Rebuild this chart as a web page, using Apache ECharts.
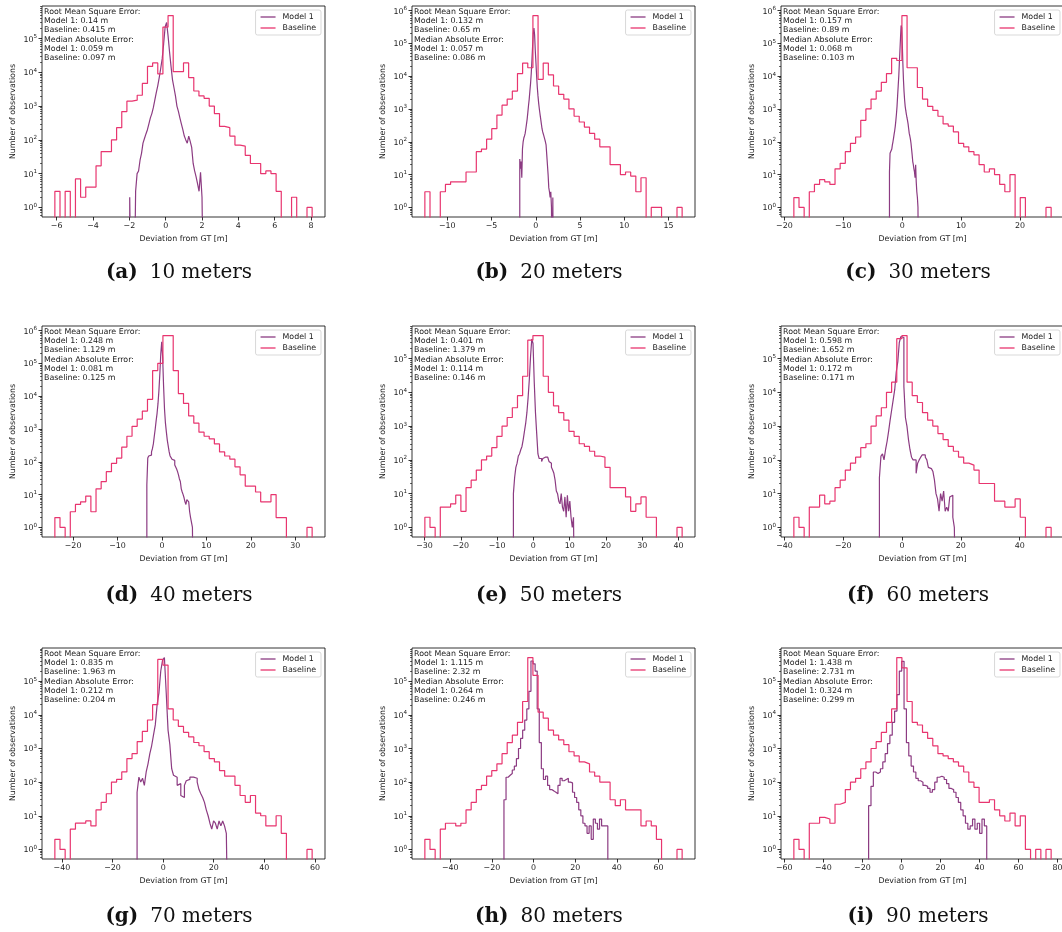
<!DOCTYPE html>
<html>
<head>
<meta charset="utf-8">
<script src="https://cdn.jsdelivr.net/npm/echarts@6/dist/echarts.min.js"></script>
<style>
  html, body { margin: 0; padding: 0; background: #fff; }
  #chart { width: 1062px; height: 932px; }
</style>
</head>
<body>
<div id="chart"></div>
<script>
// ---- data ---------------------------------------------------------------
const panelLetters = ['(a)', '(b)', '(c)', '(d)', '(e)', '(f)', '(g)', '(h)', '(i)'];
const panelDistances = ['10 meters', '20 meters', '30 meters', '40 meters', '50 meters',
                        '60 meters', '70 meters', '80 meters', '90 meters'];

const rmseModel    = [0.14, 0.132, 0.157, 0.248, 0.401, 0.598, 0.835, 1.115, 1.438];
const rmseBaseline = [0.415, 0.65, 0.89, 1.129, 1.379, 1.652, 1.963, 2.32, 2.731];
const maeModel     = [0.059, 0.057, 0.068, 0.081, 0.114, 0.172, 0.212, 0.264, 0.324];
const maeBaseline  = [0.097, 0.086, 0.103, 0.125, 0.146, 0.171, 0.204, 0.246, 0.299];

// histogram ranges [first bin edge, last bin edge] in metres
const baselineRanges = [[-6.1, 8.06], [-12.53, 16.53], [-18.4, 25.3], [-24.1, 33.8], [-29.9, 41.0],
                        [-36.8, 50.7], [-42.8, 58.9], [-52.2, 71.4], [-55.1, 76.7]];
const modelRanges    = [[-1.98, 2.08], [-1.81, 2.0], [-2.16, 2.78], [-3.4, 7.07], [-5.5, 11.4],
                        [-7.7, 18.3], [-10.3, 25.7], [-14.2, 35.7], [-16.8, 43.7]];

// x tick labels per panel
const xTicksA = [-6, -4, -2, 0, 2, 4, 6, 8];
const xTicksB = [-10, -5, 0, 5, 10, 15];
const xTicksC = [-20, -10, 0, 10, 20];
const xTicksD = [-20, -10, 0, 10, 20, 30];
const xTicksE = [-30, -20, -10, 0, 10, 20, 30, 40];
const xTicksF = [-40, -20, 0, 20, 40];
const xTicksG = [-40, -20, 0, 20, 40, 60];
const xTicksH = [-40, -20, 0, 20, 40, 60];
const xTicksI = [-60, -40, -20, 0, 20, 40, 60, 80];

// bin counts (50 bins per series)
const baselineA = [3,0,3,0,7,2,4,4,17,45, 45,100,230,690,1400,1500,2100,4700,15000,19000,
  9000,220000,480000,10500,10500,19000,7000,2800,2000,1700, 1000,600,250,230,130,70,65,35,20,20,
  10,12,10,3,0,0,2,0,0,1];
const modelA = [2,0,0,0,3,10,12,25,40,80, 110,150,200,300,450,600,900,1500,2500,4000,
  7000,13000,25000,70000,220000,300000,120000,40000,15000,6000, 3500,2000,1000,700,450,300,200,130,100,80,
  130,90,60,20,12,8,5,3,11,2];

const baselineB = [3,0,0,3,5,6,6,6,12,12, 50,60,120,250,650,1300,2000,3500,12000,25000,
  18000,700000,8000,25000,11000,5000,2800,2000,1000,600, 400,280,180,120,70,70,20,20,10,12,
  9,3,8,0,1,1,0,0,0,1];
const modelB = [30,15,25,8,60,100,130,150,180,250, 350,500,800,1300,2000,3500,6000,12000,30000,80000,
  200000,290000,180000,60000,25000,10000,4500,2500,1500,1000, 700,500,350,250,200,170,150,120,100,80,
  40,20,10,4,3,2,3,1,0,2];

const baselineC = [2,1,0,3,5,7,6,5,15,22, 50,90,140,450,1000,2000,3500,6500,12000,35000,
  30000,700000,18000,18000,4500,2000,1200,900,600,350, 300,200,90,70,50,40,20,12,15,10,
  5,3,10,0,2,0,0,0,0,1];
const modelC = [12,45,50,40,60,80,100,130,170,220, 300,450,700,1200,2500,5000,10000,25000,60000,150000,
  350000,300000,100000,25000,8000,3500,1900,1200,900,700, 550,450,350,250,180,150,120,90,60,40,
  25,20,15,12,8,20,6,3,2,1];

const baselineD = [2,1,0,3,5,6,9,3,15,25, 50,90,130,280,600,1200,2000,3500,8000,60000,
  100000,700000,700000,60000,12000,6000,2500,1500,800,600, 500,350,200,150,120,70,40,18,18,12,
  6,6,10,2,2,0,0,0,0,1];
const modelD = [20,130,150,140,160,200,250,350,600,1000, 1800,3000,6000,15000,50000,200000,450000,150000,20000,4000,
  1500,800,450,300,200,150,140,120,130,110, 80,70,60,50,40,30,25,15,12,10,
  8,6,5,7,8,6,3,2,2,1];

const baselineE = [2,1,0,4,4,5,9,3,15,25, 50,100,130,230,500,1000,1800,3500,8000,30000,
  350000,480000,480000,30000,10000,4000,2500,1500,700,500, 300,250,180,130,120,60,15,15,15,8,
  3,5,8,2,2,0,0,0,0,1];
const modelE = [10,30,60,80,130,150,200,250,400,700, 1200,2500,7000,25000,120000,380000,280000,20000,2500,600,
  150,110,110,90,110,120,130,120,110,90, 80,60,50,40,25,12,10,6,5,10,
  4,3,8,2,9,3,6,2,1,2];

const baselineF = [2,1,0,4,4,9,5,6,15,25, 50,80,120,230,300,1000,2000,3500,10000,20000,
  390000,480000,20000,8000,5000,2500,1500,1000,600,400, 250,180,120,80,70,50,20,20,20,6,
  6,4,4,7,2,0,0,0,0,1];
const modelF = [30,130,150,100,200,350,700,1500,3000,6000, 12000,40000,80000,300000,450000,420000,15000,1800,1000,400,
  200,120,100,100,40,80,100,120,140,140, 120,100,60,55,50,45,25,10,7,3,
  10,6,12,3,4,3,8,9,2,1];

const baselineG = [2,1,0,4,6,6,7,5,15,25, 45,100,120,200,500,700,1600,3200,7000,20000,
  440000,300000,15000,7000,4500,3000,2200,1500,1200,800, 500,400,220,150,150,80,40,25,40,12,
  10,5,5,10,3,0,0,0,0,1];
const modelG = [50,140,100,130,80,200,350,700,1200,2500, 5000,20000,45000,200000,420000,500000,45000,3500,1300,250,
  160,140,80,90,40,35,80,110,120,140, 140,160,130,100,60,45,35,25,15,10,
  6,4,7,6,4,7,5,7,5,3];

const baselineH = [2,1,0,4,6,6,5,6,15,25, 60,80,150,220,350,700,1500,2500,6000,25000,
  505000,150000,12000,8000,3500,2500,1800,1300,800,600, 400,350,200,150,100,100,30,20,30,15,
  15,15,5,7,5,2,0,0,0,1];
const modelH = [30,140,160,180,230,300,500,1000,2000,3500, 7000,15000,50000,400000,330000,200000,15000,1500,250,120,
  150,80,60,55,50,45,80,130,110,120, 130,100,95,50,35,25,15,10,6,5,
  3,5,2,8,6,4,8,5,5,5];

const baselineI = [2,1,0,6,6,9,8,6,22,25, 60,100,130,250,400,1000,1600,3000,6000,15000,
  505000,250000,25000,6000,5000,3000,2000,1200,700,600, 500,400,300,200,100,70,25,25,30,15,
  10,7,12,5,10,1,0,1,0,1];
const modelI = [20,75,200,180,200,250,400,700,1400,2500, 6000,13000,40000,200000,390000,15000,1500,600,300,200,
  130,110,100,80,75,65,50,60,100,140, 150,140,120,90,65,60,50,35,25,15,
  10,6,4,5,8,4,6,3,8,5];

const baselineCounts = [baselineA, baselineB, baselineC, baselineD, baselineE, baselineF, baselineG, baselineH, baselineI];
const modelCounts    = [modelA, modelB, modelC, modelD, modelE, modelF, modelG, modelH, modelI];
const xTicks         = [xTicksA, xTicksB, xTicksC, xTicksD, xTicksE, xTicksF, xTicksG, xTicksH, xTicksI];

// ---- layout & style ------------------------------------------------------
const CHART_W = 1062;
const colLeft = [42, 412, 781];
const rowTop = [6, 326, 648];
const plotW = 283, plotH = 211;
const captionX = [179, 549, 918];
const captionY = [273, 596, 917];

const COLOR_MODEL = '#8c3b82';
const COLOR_BASE = '#e8356f';
const FONT = 'DejaVu Sans';
const FS = 7.9;
const TEXT = '#1a1a1a';
const EMPTY = 1e-3;   // empty bins fall below the axis floor and get clipped

// outline of a step histogram: down to the floor at both outer edges
function stepOutline(range, counts) {
  const lo = range[0], hi = range[1];
  const w = (hi - lo) / counts.length;
  const pts = [[lo, EMPTY]];
  counts.forEach((c, i) => {
    const v = c > 0 ? c : EMPTY;
    pts.push([lo + i * w, v], [lo + (i + 1) * w, v]);
  });
  pts.push([hi, EMPTY]);
  return pts;
}

function fmtX(v) { return v < 0 ? '\u2212' + (-v) : String(v); }
function fmtLog(v) { return '{b|10}{s|' + Math.round(Math.log10(v)) + '}'; }

const grids = [], xAxes = [], yAxes = [], minorYAxes = [], series = [], legends = [], graphics = [];

for (let p = 0; p < 9; p++) {
  const r = Math.floor(p / 3), c = p % 3;
  const left = colLeft[c], top = rowTop[r];

  // axis extents: 5% margins (log space for y)
  const bLo = Math.min(baselineRanges[p][0], modelRanges[p][0]);
  const bHi = Math.max(baselineRanges[p][1], modelRanges[p][1]);
  const span = bHi - bLo;
  const xMin = bLo - 0.05 * span, xMax = bHi + 0.05 * span;
  const all = baselineCounts[p].concat(modelCounts[p]).filter(v => v > 0);
  const lmin = Math.log10(Math.min.apply(null, all));
  const lmax = Math.log10(Math.max.apply(null, all));
  const ls = lmax - lmin;
  const yMin = Math.pow(10, lmin - 0.05 * ls), yMax = Math.pow(10, lmax + 0.05 * ls);

  const majors = [], minors = [];
  for (let e = -1; e <= 7; e++) {
    const m = Math.pow(10, e);
    if (m >= yMin && m <= yMax) majors.push(m);
    for (let k = 2; k <= 9; k++) {
      const v = k * m;
      if (v >= yMin && v <= yMax) minors.push(v);
    }
  }

  grids.push({ left: left, top: top, width: plotW, height: plotH, show: true,
    borderColor: '#000', borderWidth: 0.8, backgroundColor: 'transparent',
    containLabel: false, outerBoundsMode: 'none' });

  xAxes.push({
    type: 'value', gridIndex: p, min: xMin, max: xMax, position: 'bottom',
    axisLine: { show: false, onZero: false },
    splitLine: { show: false },
    axisTick: { show: true, inside: false, length: 3.5, customValues: xTicks[p],
      lineStyle: { color: '#000', width: 0.8 } },
    axisLabel: { show: true, customValues: xTicks[p], formatter: fmtX, margin: 5,
      fontSize: FS, fontFamily: FONT, color: TEXT },
    name: 'Deviation from GT [m]', nameLocation: 'middle', nameGap: 17.5, nameMoveOverlap: false,
    nameTextStyle: { fontSize: FS, fontFamily: FONT, color: TEXT }
  });

  yAxes.push({
    type: 'log', logBase: 10, gridIndex: p, min: yMin, max: yMax, position: 'left',
    axisLine: { show: false, onZero: false },
    splitLine: { show: false },
    minorTick: { show: false },
    axisTick: { show: true, inside: false, length: 3.5, customValues: majors,
      lineStyle: { color: '#000', width: 0.8 } },
    axisLabel: { show: true, customValues: majors, formatter: fmtLog, margin: 5,
      color: TEXT,
      rich: {
        b: { fontSize: FS, fontFamily: FONT, color: TEXT, lineHeight: 10, verticalAlign: 'bottom' },
        s: { fontSize: 5.6, fontFamily: FONT, color: TEXT, lineHeight: 10, verticalAlign: 'top' }
      } },
    name: 'Number of observations', nameLocation: 'middle', nameGap: 25, nameMoveOverlap: false,
    nameTextStyle: { fontSize: FS, fontFamily: FONT, color: TEXT }
  });

  minorYAxes.push({
    type: 'log', logBase: 10, gridIndex: p, min: yMin, max: yMax, position: 'left', offset: 0,
    axisLine: { show: false, onZero: false }, splitLine: { show: false }, axisLabel: { show: false },
    axisTick: { show: true, inside: false, length: 2, customValues: minors,
      lineStyle: { color: '#000', width: 0.6 } }
  });

  series.push({
    type: 'line', name: 'Model 1', xAxisIndex: p, yAxisIndex: p,
    data: stepOutline(modelRanges[p], modelCounts[p]),
    showSymbol: false, symbol: 'none', clip: true, animation: false,
    lineStyle: { color: COLOR_MODEL, width: 1.2 }, itemStyle: { color: COLOR_MODEL }
  });
  series.push({
    type: 'line', name: 'Baseline', xAxisIndex: p, yAxisIndex: p,
    data: stepOutline(baselineRanges[p], baselineCounts[p]),
    showSymbol: false, symbol: 'none', clip: true, animation: false,
    lineStyle: { color: COLOR_BASE, width: 1.2 }, itemStyle: { color: COLOR_BASE }
  });

  legends.push({
    data: ['Model 1', 'Baseline'], orient: 'vertical',
    right: CHART_W - (left + plotW) + 4, top: top + 4,
    icon: 'rect', itemWidth: 15, itemHeight: 1.3, itemGap: 3,
    padding: [3, 5, 3, 5], borderColor: '#cfcfcf', borderWidth: 0.8, borderRadius: 2,
    backgroundColor: 'rgba(255,255,255,0.85)', selectedMode: false,
    textStyle: { fontSize: FS, fontFamily: FONT, color: TEXT, padding: [0, 0, 0, 2] }
  });

  const statLines = [
    'Root Mean Square Error:',
    'Model 1: ' + rmseModel[p] + ' m',
    'Baseline: ' + rmseBaseline[p] + ' m',
    'Median Absolute Error:',
    'Model 1: ' + maeModel[p] + ' m',
    'Baseline: ' + maeBaseline[p] + ' m'
  ];
  graphics.push({
    type: 'text', left: left + 2, top: top + 1, z: 100,
    style: { text: statLines.join('\n'), fill: TEXT, font: FS + 'px "' + FONT + '"',
      lineHeight: 9.3 }
  });

  graphics.push({
    type: 'text', x: captionX[c], y: captionY[r], z: 100,
    style: {
      text: '{b|' + panelLetters[p] + '}{n|' + panelDistances[p] + '}',
      align: 'center', verticalAlign: 'middle', fill: '#111',
      rich: {
        b: { fontFamily: 'DejaVu Serif', fontWeight: 'bold', fontSize: 20, padding: [0, 12, 0, 0], fill: '#111' },
        n: { fontFamily: 'DejaVu Serif', fontSize: 20, fill: '#111' }
      }
    }
  });
}

const chart = echarts.init(document.getElementById('chart'), null, { renderer: 'canvas' });
chart.setOption({
  backgroundColor: '#fff',
  animation: false,
  grid: grids,
  xAxis: xAxes,
  yAxis: yAxes.concat(minorYAxes),
  legend: legends,
  series: series,
  graphic: graphics
});
</script>
</body>
</html>
